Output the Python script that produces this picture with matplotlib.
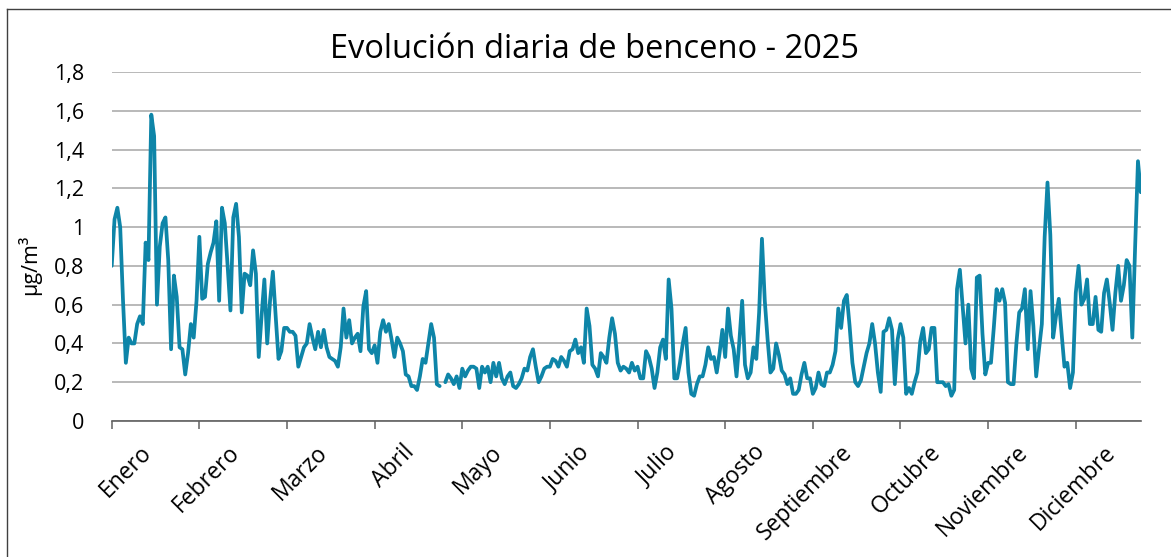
import matplotlib
matplotlib.use("Agg")
import matplotlib.pyplot as plt
import matplotlib.transforms as mtransforms
from matplotlib.lines import Line2D
import numpy as np

# daily benzene values (ug/m3) by calendar month
enero = [0.80, 1.04, 1.10, 1.00, 0.62, 0.30, 0.43, 0.40, 0.40, 0.50, 0.54, 0.50, 0.92, 0.83, 1.58, 1.47,
         0.60, 0.90, 1.02, 1.05, 0.83, 0.37, 0.75, 0.64, 0.38, 0.37, 0.24, 0.35, 0.50, 0.43, 0.62]
febrero = [0.95, 0.63, 0.64, 0.81, 0.87, 0.92, 1.03, 0.62, 1.10, 1.02, 0.80, 0.57, 1.05, 1.12, 0.95, 0.56,
           0.76, 0.75, 0.70, 0.88, 0.76, 0.33, 0.54, 0.73, 0.40, 0.62, 0.77, 0.54]
marzo = [0.32, 0.36, 0.48, 0.48, 0.46, 0.46, 0.44, 0.28, 0.33, 0.38, 0.40, 0.50, 0.43, 0.37, 0.46, 0.38,
         0.47, 0.38, 0.33, 0.32, 0.31, 0.28, 0.38, 0.58, 0.43, 0.52, 0.40, 0.43, 0.45, 0.36, 0.59]
abril = [0.67, 0.37, 0.35, 0.39, 0.30, 0.46, 0.52, 0.46, 0.50, 0.42, 0.33, 0.43, 0.40, 0.36, 0.24, 0.23,
         0.18, 0.18, 0.16, 0.23, 0.32, 0.30, 0.40, 0.50, 0.43, 0.19, 0.18, np.nan, 0.20, 0.24]
mayo = [0.22, 0.19, 0.23, 0.17, 0.27, 0.23, 0.26, 0.28, 0.28, 0.27, 0.17, 0.28, 0.25, 0.28, 0.20, 0.30,
        0.23, 0.30, 0.22, 0.19, 0.23, 0.25, 0.18, 0.17, 0.19, 0.22, 0.27, 0.26, 0.33, 0.37, 0.28]
junio = [0.20, 0.23, 0.27, 0.28, 0.28, 0.32, 0.31, 0.28, 0.33, 0.31, 0.28, 0.36, 0.37, 0.42, 0.35, 0.38,
         0.30, 0.58, 0.49, 0.29, 0.27, 0.23, 0.35, 0.33, 0.30, 0.43, 0.53, 0.45, 0.30, 0.26]
julio = [0.28, 0.27, 0.25, 0.30, 0.26, 0.28, 0.22, 0.22, 0.36, 0.33, 0.27, 0.17, 0.25, 0.38, 0.42, 0.32,
         0.73, 0.58, 0.22, 0.22, 0.30, 0.40, 0.48, 0.25, 0.14, 0.13, 0.19, 0.23, 0.23, 0.29, 0.38]
agosto = [0.32, 0.33, 0.25, 0.35, 0.47, 0.33, 0.58, 0.44, 0.37, 0.23, 0.41, 0.62, 0.29, 0.22, 0.25, 0.38,
          0.32, 0.56, 0.94, 0.62, 0.42, 0.25, 0.27, 0.40, 0.34, 0.26, 0.24, 0.19, 0.22, 0.14, 0.14]
septiembre = [0.16, 0.24, 0.30, 0.22, 0.22, 0.14, 0.17, 0.25, 0.19, 0.18, 0.25, 0.25, 0.29, 0.36, 0.58,
              0.48, 0.62, 0.65, 0.49, 0.30, 0.20, 0.18, 0.21, 0.28, 0.35, 0.40, 0.50, 0.40, 0.25, 0.15]
octubre = [0.46, 0.47, 0.53, 0.47, 0.19, 0.42, 0.50, 0.43, 0.14, 0.17, 0.14, 0.20, 0.25, 0.41, 0.48, 0.35,
           0.37, 0.48, 0.48, 0.20, 0.20, 0.20, 0.18, 0.19, 0.13, 0.16, 0.68, 0.78, 0.59, 0.40, 0.60]
noviembre = [0.27, 0.22, 0.74, 0.75, 0.45, 0.24, 0.30, 0.30, 0.48, 0.68, 0.62, 0.68, 0.61, 0.20, 0.19,
             0.19, 0.40, 0.56, 0.58, 0.68, 0.37, 0.67, 0.49, 0.23, 0.37, 0.50, 0.95, 1.23, 0.96, 0.43]
diciembre = [0.54, 0.63, 0.45, 0.28, 0.30, 0.17, 0.25, 0.66, 0.80, 0.60, 0.63, 0.73, 0.50, 0.50, 0.64,
             0.47, 0.46, 0.66, 0.73, 0.61, 0.47, 0.66, 0.80, 0.62, 0.70, 0.83, 0.80, 0.43, 0.90, 1.34, 1.18]

month_labels = ["Enero", "Febrero", "Marzo", "Abril", "Mayo", "Junio", "Julio", "Agosto",
                "Septiembre", "Octubre", "Noviembre", "Diciembre"]
y_ticks = [0, 0.2, 0.4, 0.6, 0.8, 1.0, 1.2, 1.4, 1.6, 1.8]
y_labels = ["0", "0,2", "0,4", "0,6", "0,8", "1", "1,2", "1,4", "1,6", "1,8"]

values = np.array(enero + febrero + marzo + abril + mayo + junio + julio + agosto
                  + septiembre + octubre + noviembre + diciembre)
days = np.arange(len(values))

plt.rcParams["font.family"] = ["Open Sans", "DejaVu Sans"]

fig = plt.figure(figsize=(11.71, 5.57), dpi=100)
ax = fig.add_axes([0.0954, 0.2442, 0.8788, 0.6265])

ax.plot(days, values, color="#0E85A8", lw=2.7, solid_joinstyle="round", solid_capstyle="round")

ax.set_xlim(0, len(values) - 1)
ax.set_ylim(0, 1.8)
ax.set_yticks(y_ticks, y_labels)
ax.grid(axis="y", color="#A6A6A6", lw=1.1)
ax.set_axisbelow(True)
for s in ["top", "right", "left"]:
    ax.spines[s].set_visible(False)
ax.spines["bottom"].set_color("#606060")
ax.spines["bottom"].set_linewidth(1.2)

ax.tick_params(axis="y", length=0, pad=20, labelsize=15.5)
ax.set_xticks(np.arange(0, len(values), 31)[:12], month_labels)
ax.tick_params(axis="x", length=6, width=1.1, color="#606060", pad=8, labelsize=16.5)
offset = mtransforms.ScaledTranslation(0.28, 0, fig.dpi_scale_trans)
for lab in ax.get_xticklabels():
    lab.set_rotation(45)
    lab.set_ha("right")
    lab.set_va("top")
    lab.set_rotation_mode("anchor")
    lab.set_transform(lab.get_transform() + offset)

fig.text(0.508, 0.912, "Evolución diaria de benceno - 2025", ha="center", va="center", fontsize=23.5)
fig.text(0.025, 0.525, "µg/m³", rotation=90, ha="center", va="center", fontsize=15.5)

# chart border (top and left edges visible)
fig.add_artist(Line2D([7 / 1171, 1], [1 - 9 / 557, 1 - 9 / 557], transform=fig.transFigure, color="#404040", lw=1))
fig.add_artist(Line2D([7 / 1171, 7 / 1171], [0, 1 - 9 / 557], transform=fig.transFigure, color="#404040", lw=1))

fig.savefig("out.png", dpi=100)
